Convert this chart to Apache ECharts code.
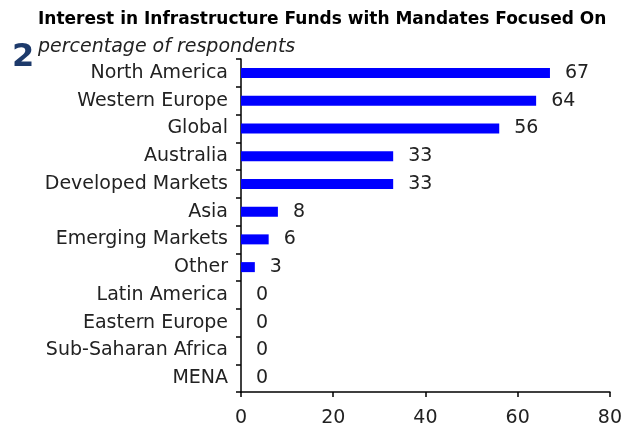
<!DOCTYPE html>
<html>
<head>
<meta charset="utf-8">
<script src="https://cdn.jsdelivr.net/npm/echarts@6/dist/echarts.min.js"></script>
<style>
html, body { margin: 0; padding: 0; background: #fff; }
#chart { width: 625px; height: 432px; }
</style>
</head>
<body>
<div id="chart"></div>
<script>
const regions = ['North America', 'Western Europe', 'Global', 'Australia', 'Developed Markets', 'Asia',
    'Emerging Markets', 'Other', 'Latin America', 'Eastern Europe', 'Sub-Saharan Africa', 'MENA']
const interest = [67, 64, 56, 33, 33, 8, 6, 3, 0, 0, 0, 0]
const xTicks = [0, 20, 40, 60, 80]

const font = '"DejaVu Sans", sans-serif'
const myChart = echarts.init(document.getElementById('chart'))
const option = {
    animation: false,
    textStyle: { fontFamily: font },
    title: [
        {
            text: 'Interest in Infrastructure Funds with Mandates Focused On',
            left: 38,
            top: 11,
            padding: 0,
            textStyle: { fontFamily: font, fontSize: 17, fontWeight: 'bold', color: '#000' }
        },
        {
            text: '2',
            left: 12,
            top: 42,
            padding: 0,
            textStyle: { fontFamily: font, fontSize: 32, fontWeight: 'bold', color: '#1d3a6b' }
        },
        {
            text: 'percentage of respondents',
            left: 38,
            top: 38,
            padding: 0,
            textStyle: { fontFamily: font, fontSize: 19, fontStyle: 'italic', fontWeight: 'normal', color: '#222' }
        }
    ],
    grid: { left: 241, right: 14, top: 59, bottom: 40, containLabel: false },
    xAxis: {
        type: 'value',
        min: xTicks[0],
        max: xTicks[xTicks.length - 1],
        interval: 20,
        axisLine: { show: true, lineStyle: { color: '#000', width: 1.5 } },
        axisTick: { show: true, length: 5, lineStyle: { color: '#000', width: 1.5 } },
        axisLabel: { color: '#222', fontSize: 19, margin: 17, fontFamily: font },
        splitLine: { show: false }
    },
    yAxis: {
        type: 'category',
        inverse: true,
        data: regions,
        axisLine: { show: true, lineStyle: { color: '#000', width: 1.5 } },
        axisTick: { show: true, length: 5, lineStyle: { color: '#000', width: 1.5 } },
        axisLabel: { color: '#222', fontSize: 19, margin: 13, fontFamily: font }
    },
    series: [{
        type: 'bar',
        data: interest,
        barWidth: 10,
        itemStyle: { color: '#0000ff' },
        label: {
            show: true,
            position: 'right',
            distance: 15,
            color: '#222',
            fontSize: 19,
            fontFamily: font
        }
    }]
}
myChart.setOption(option)
</script>
</body>
</html>
